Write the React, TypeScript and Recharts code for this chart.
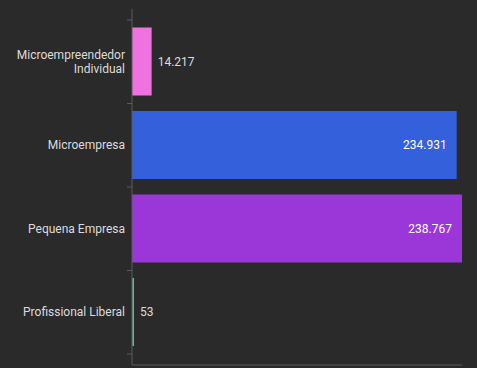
import { Bar, BarChart, Cell, LabelList, XAxis, YAxis } from "recharts";

const categories = ["Microempreendedor Individual", "Microempresa", "Pequena Empresa", "Profissional Liberal"];
const values = [14217, 234931, 238767, 53];
const colors = ["#ee72df", "#3560dc", "#9b36d9", "#5fb98c"];

const data = categories.map((name, i) => ({ name, value: values[i] }));

const fmt = (v: number) => String(v).replace(/\B(?=(\d{3})+(?!\d))/g, ".");

const AXIS_X = 132;
const BAND = 83.5;

function CategoryTick(props: any) {
	const { y, payload, index } = props;
	const name: string = payload.value;
	// long names go on two lines
	const lines = name.length > 20 ? [name.slice(0, name.indexOf(" ")), name.slice(name.indexOf(" ") + 1)] : [name];
	const lh = 14;
	return (
		<g>
			<line x1={AXIS_X - 5} x2={AXIS_X} y1={y - BAND / 2} y2={y - BAND / 2} stroke="#5a5a5a" />
			{index === categories.length - 1 && (
				<line x1={AXIS_X - 5} x2={AXIS_X} y1={y + BAND / 2} y2={y + BAND / 2} stroke="#5a5a5a" />
			)}
			<text
				x={AXIS_X - 7}
				y={y - ((lines.length - 1) * lh) / 2}
				textAnchor="end"
				dominantBaseline="central"
				fill="#dcdcdc"
				fontSize={12}
				fontFamily="Roboto"
			>
				{lines.map((l, i) => (
					<tspan key={l} x={AXIS_X - 7} dy={i === 0 ? 0 : lh}>
						{l}
					</tspan>
				))}
			</text>
		</g>
	);
}

function ValueLabel(props: any) {
	const { x, y, width, height, value } = props;
	const inside = width > 60;
	return (
		<text
			x={inside ? x + width - 10 : x + width + 6}
			y={y + height / 2}
			textAnchor={inside ? "end" : "start"}
			dominantBaseline="central"
			fill={inside ? "#ffffff" : "#dcdcdc"}
			fontSize={12}
			fontFamily="Roboto"
		>
			{fmt(value)}
		</text>
	);
}

export default function App() {
	return (
		<div style={{ position: "absolute", left: 0, top: 0, width: 477, height: 368, background: "#2a2a2a" }}>
			<BarChart
				width={477}
				height={368}
				data={data}
				layout="vertical"
				margin={{ top: 9, right: 15, left: 0, bottom: 2 }}
				barCategoryGap="9%"
			>
				<XAxis type="number" domain={[0, "dataMax"]} tick={false} tickLine={false} height={1} stroke="#5a5a5a" />
				<YAxis
					type="category"
					dataKey="name"
					width={AXIS_X}
					stroke="#5a5a5a"
					tickLine={false}
					interval={0}
					padding={{ top: 11, bottom: 11 }}
					tick={<CategoryTick />}
				/>
				<Bar dataKey="value" isAnimationActive={false} minPointSize={2}>
					{data.map((d, i) => (
						<Cell key={d.name} fill={colors[i]} />
					))}
					<LabelList dataKey="value" content={<ValueLabel />} />
				</Bar>
			</BarChart>
		</div>
	);
}
